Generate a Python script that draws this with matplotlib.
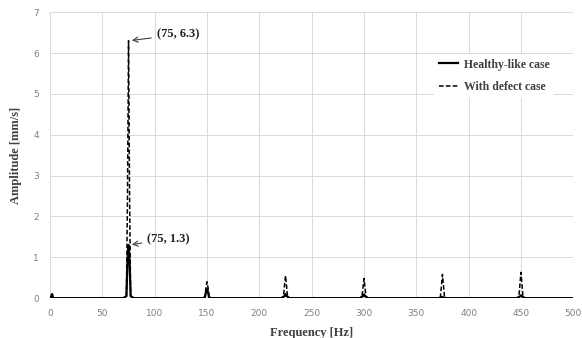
import matplotlib.pyplot as plt

# spectrum (peaks at multiples of 75 Hz)
freq_healthy = [0, 1, 2, 3, 70, 73, 74, 75, 76, 77, 80, 146, 148, 149, 150, 151, 152, 154,
                221, 224, 225, 226, 229, 296, 299, 300, 301, 304, 371, 374, 375, 376, 379,
                446, 449, 450, 451, 454, 500]
amp_healthy = [0.0, 0.03, 0.1, 0.0, 0.0, 0.05, 0.9, 1.3, 0.9, 0.05, 0.0, 0.0, 0.02, 0.15, 0.22, 0.15, 0.02, 0.0,
               0.0, 0.05, 0.1, 0.05, 0.0, 0.0, 0.05, 0.09, 0.05, 0.0, 0.0, 0.01, 0.03, 0.01, 0.0,
               0.0, 0.04, 0.07, 0.04, 0.0, 0.0]

freq_defect = [0, 1, 2, 3, 70, 73, 74, 75, 76, 77, 80, 146, 148, 149, 150, 151, 152, 154,
               221, 223, 224, 225, 226, 227, 229, 296, 298, 299, 300, 301, 302, 304,
               371, 373, 374, 375, 376, 377, 379, 446, 448, 449, 450, 451, 452, 454, 500]
amp_defect = [0.0, 0.03, 0.1, 0.0, 0.0, 0.05, 2.5, 6.3, 2.5, 0.05, 0.0, 0.0, 0.03, 0.25, 0.4, 0.25, 0.03, 0.0,
              0.0, 0.02, 0.3, 0.55, 0.3, 0.02, 0.0, 0.0, 0.02, 0.25, 0.48, 0.25, 0.02, 0.0,
              0.0, 0.02, 0.3, 0.58, 0.3, 0.02, 0.0, 0.0, 0.02, 0.33, 0.63, 0.33, 0.02, 0.0, 0.0]

fig, ax = plt.subplots(figsize=(5.82, 3.38), dpi=100)
plt.subplots_adjust(left=0.086, right=0.985, top=0.964, bottom=0.118)

ax.plot(freq_healthy, amp_healthy, color='black', lw=1.6, label='Healthy-like case')
ax.plot(freq_defect, amp_defect, color='black', lw=1.1, ls=(0, (3, 1.5)), label='With defect case')

ax.set_xlim(0, 500)
ax.set_ylim(0, 7)
ax.set_xticks(range(0, 501, 50))
ax.set_yticks(range(0, 8))
ax.grid(True, color='#d9d9d9', lw=0.7)
ax.set_axisbelow(True)
for s in ax.spines.values():
    s.set_visible(False)
ax.tick_params(length=0, labelsize=6.5, labelcolor='#808080', pad=8)

lab = dict(family='Liberation Serif', weight='bold', color='#404040', size=9)
ax.set_xlabel('Frequency [Hz]', labelpad=6, **lab)
ax.set_ylabel('Amplitude [mm/s]', labelpad=8, **lab)

arr = dict(arrowstyle='->', color='#404040', lw=0.8)
ax.annotate('(75, 6.3)', xy=(75.5, 6.3), xytext=(102, 6.45), fontsize=9, fontfamily='Liberation Serif',
            fontweight='bold', color='#222222', va='center', arrowprops=arr)
ax.annotate('(75, 1.3)', xy=(75.5, 1.3), xytext=(93, 1.45), fontsize=9, fontfamily='Liberation Serif',
            fontweight='bold', color='#222222', va='center', arrowprops=arr)

leg = ax.legend(loc='upper right', bbox_to_anchor=(0.975, 0.875), frameon=True, fancybox=False,
                edgecolor='none', facecolor='white', framealpha=1, handlelength=1.6,
                handletextpad=0.5, labelspacing=0.9,
                prop=dict(family='Liberation Serif', weight='bold', size=8.5))
for t in leg.get_texts():
    t.set_color('#404040')

fig.savefig('out.png', dpi=100)
